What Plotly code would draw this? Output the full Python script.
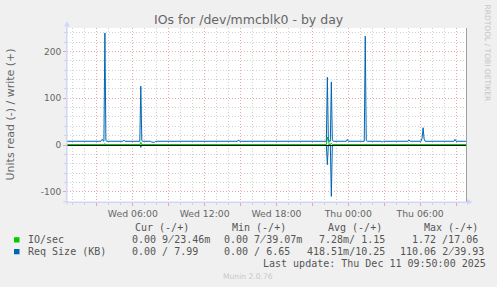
import plotly.graph_objects as go

# ---------------- data ----------------
W1 = "2025-12-10 "
W2 = "2025-12-11 "

# Req Size (KB), write side (+)
req_write_time = [
    W1 + "00:30", W1 + "03:20", W1 + "03:25", W1 + "03:30", W1 + "03:35", W1 + "03:40",
    W1 + "03:45", W1 + "03:50", W1 + "05:10", W1 + "05:15", W1 + "05:20", W1 + "06:35",
    W1 + "06:40", W1 + "06:45", W1 + "06:50", W1 + "07:30", W1 + "07:35", W1 + "07:50",
    W1 + "07:55", W1 + "14:45", W1 + "14:50", W1 + "14:55", W1 + "22:10", W1 + "22:15",
    W1 + "22:20", W1 + "22:25", W1 + "22:30", W1 + "22:35", W1 + "22:40", W1 + "22:45",
    W1 + "23:50", W1 + "23:55", W2 + "00:00", W2 + "01:20", W2 + "01:25", W2 + "01:30",
    W2 + "01:35", W2 + "02:45", W2 + "02:50", W2 + "02:55", W2 + "05:00", W2 + "05:05",
    W2 + "05:10", W2 + "06:05", W2 + "06:10", W2 + "06:15", W2 + "06:20", W2 + "06:25",
    W2 + "08:50", W2 + "08:55", W2 + "09:00", W2 + "09:50",
]
req_write_kb = [
    8.0, 8.0, 12.0, 8.5, 8.0, 239.93,
    9.5, 8.0, 8.0, 10.5, 8.0, 8.0,
    126.0, 9.5, 8.0, 8.0, 6.0, 6.0,
    8.0, 8.0, 11.0, 8.0, 8.0, 145.0,
    13.0, 8.0, 8.0, 135.0, 11.0, 8.0,
    8.0, 12.0, 8.0, 8.0, 233.0, 9.5,
    8.0, 8.0, 6.5, 8.0, 8.0, 11.0,
    8.0, 8.0, 15.0, 37.0, 13.0, 8.0,
    8.0, 12.0, 8.0, 7.99,
]

# Req Size (KB), read side (-)
req_read_time = [
    W1 + "00:30", W1 + "06:35", W1 + "06:40", W1 + "06:45", W1 + "22:10", W1 + "22:15",
    W1 + "22:20", W1 + "22:30", W1 + "22:35", W1 + "22:40", W2 + "09:50",
]
req_read_kb = [0.0, 0.0, 5.0, 0.0, 0.0, 42.0, 0.0, 0.0, 110.06, 0.0, 0.0]

# IO/sec, write side (+)
io_write_time = [
    W1 + "00:30", W1 + "03:35", W1 + "03:40", W1 + "03:45", W1 + "06:35", W1 + "06:40",
    W1 + "06:45", W1 + "22:10", W1 + "22:15", W1 + "22:20", W1 + "22:25", W1 + "22:30",
    W1 + "22:35", W1 + "22:40", W2 + "01:20", W2 + "01:25", W2 + "01:30", W2 + "09:50",
]
io_write_ops = [
    0.92, 0.92, 3.0, 0.92, 0.92, 6.0,
    0.92, 0.92, 17.06, 8.0, 0.92, 0.92,
    4.0, 0.92, 0.92, 2.5, 0.92, 0.92,
]

# IO/sec, read side (-)
io_read_time = [
    W1 + "00:30", W1 + "22:10", W1 + "22:15", W1 + "22:20", W1 + "22:30", W1 + "22:35",
    W1 + "22:40", W2 + "09:50",
]
io_read_ops = [0.0, 0.0, 1.72, 0.0, 0.0, 1.2, 0.0, 0.0]

x_range = [W1 + "00:30", W2 + "09:50"]
y_range = [-122, 250.5]
x_tick_vals = [W1 + "03:00", W1 + "06:00", W1 + "09:00", W1 + "12:00", W1 + "15:00",
               W1 + "18:00", W1 + "21:00", W2 + "00:00", W2 + "03:00", W2 + "06:00",
               W2 + "09:00"]
x_tick_text = ["", "Wed 06:00", "", "Wed 12:00", "", "Wed 18:00", "", "Thu 00:00", "",
               "Thu 06:00", ""]
y_tick_vals = [-100, 0, 100, 200]
y_tick_text = ["-100", "0", "100", "200"]

title_text = "IOs for /dev/mmcblk0 - by day"
y_title = "Units read (-) / write (+)"
series_names = ["IO/sec", "Req Size (KB)"]
series_colors = ["#00CC00", "#0066B3"]
stat_headers = ["Cur (-/+)", "Min (-/+)", "Avg (-/+)", "Max (-/+)"]
# the "/" separator is printed over the first digit of a 7-character value
io_stats = ["0.00 9\u033823.46m", "0.00 7\u033839.07m", "7.28m/ 1.15", "1.72 /17.06"]
req_stats = ["0.00 / 7.99", "0.00 / 6.65", "418.51m/10.25", "110.06 2\u033839.93"]
last_update = "Last update: Thu Dec 11 09:50:00 2025"
munin_version = "Munin 2.0.76"
rrd_credit = "RRDTOOL / TOBI OETIKER"

# ---------------- layout helpers ----------------
W, H = 497, 287
PL, PR, PT, PB = 67, 466, 28, 202


def fx(x):
    return (x - PL) / (PR - PL)


def fy(y):
    return (PB - y) / (PB - PT)


FONT = "DejaVu Sans"
MONO = "DejaVu Sans Mono"
TXT = "#666666"
AXIS = "#CFD6F8"
MGRID = "#e8a8a8"
GRID = "#d2d2d2"

fig = go.Figure()

# read (negative) series in the lower subplot
fig.add_trace(go.Scatter(x=io_read_time, y=[-v for v in io_read_ops], mode="lines",
                         line=dict(color=series_colors[0], width=1), xaxis="x", yaxis="y"))
fig.add_trace(go.Scatter(x=req_read_time, y=[-v for v in req_read_kb], mode="lines",
                         line=dict(color=series_colors[1], width=1), xaxis="x", yaxis="y"))
# write (positive) series in the upper subplot (above the black zero line)
fig.add_trace(go.Scatter(x=io_write_time, y=io_write_ops, mode="lines",
                         line=dict(color=series_colors[0], width=1), xaxis="x2", yaxis="y2"))
fig.add_trace(go.Scatter(x=req_write_time, y=req_write_kb, mode="lines",
                         line=dict(color=series_colors[1], width=1), xaxis="x2", yaxis="y2"))

ann = []


def text(xpx, ypx, s, size=10, color="#555555", family=MONO, xanchor="left", angle=0):
    ann.append(dict(x=fx(xpx), y=fy(ypx), xref="paper", yref="paper", text=s,
                    showarrow=False, xanchor=xanchor, yanchor="middle", borderpad=0,
                    textangle=angle, font=dict(family=family, size=size, color=color)))


text(248.5, 19, title_text, size=12.5, color=TXT, family=FONT, xanchor="center")
text(10, 114.5, y_title, size=11, color=TXT, family=FONT, xanchor="center", angle=-90)
text(487.5, 53, rrd_credit, size=7.5, color="#c4c4c4", family=FONT, xanchor="center", angle=90)
text(248, 276, munin_version, size=7.6, color="#c8c8c8", family=FONT, xanchor="center")

hdr_x = [134, 230.7, 326.7, 422.7]
for hx, h in zip(hdr_x, stat_headers):
    text(hx, 227.7, h)

row_y = [239.5, 251.3]
text(27, row_y[0], series_names[0])
text(27, row_y[1], series_names[1])

io_x = [131, 223, 318, 411]
req_x = [131, 223, 305.5, 399]
for cx, s in zip(io_x, io_stats):
    text(cx, row_y[0], s)
for cx, s in zip(req_x, req_stats):
    text(cx, row_y[1], s)

text(261.5, 263.5, last_update)

shapes = [
    # canvas
    dict(type="rect", xref="paper", yref="paper", x0=0, x1=1, y0=0, y1=1,
         fillcolor="white", line=dict(width=0), layer="below"),
    # right frame
    dict(type="line", xref="paper", yref="paper", x0=fx(466.5), x1=fx(466.5), y0=0, y1=1,
         line=dict(color="#a0a0a0", width=1), layer="above"),
    # axis extensions
    dict(type="line", xref="paper", yref="paper", x0=0, x1=0, y0=fy(205), y1=fy(24),
         line=dict(color=AXIS, width=1), layer="above"),
    dict(type="line", xref="paper", yref="paper", x0=fx(63), x1=fx(468), y0=0, y1=0,
         line=dict(color=AXIS, width=1), layer="above"),
    # arrows
    dict(type="path", xref="paper", yref="paper",
         path=f"M {fx(64)},{fy(26.5)} L {fx(70)},{fy(26.5)} L {fx(67)},{fy(21.5)} Z",
         fillcolor=AXIS, line=dict(width=0), layer="above"),
    dict(type="path", xref="paper", yref="paper",
         path=f"M {fx(467)},{fy(199)} L {fx(467)},{fy(205)} L {fx(472.5)},{fy(202)} Z",
         fillcolor=AXIS, line=dict(width=0), layer="above"),
    # legend swatches
    dict(type="rect", xref="paper", yref="paper", x0=fx(14), x1=fx(19.5), y0=fy(242.5), y1=fy(237.2),
         fillcolor=series_colors[0], line=dict(width=0)),
    dict(type="rect", xref="paper", yref="paper", x0=fx(14), x1=fx(19.5), y0=fy(254.3), y1=fy(249),
         fillcolor=series_colors[1], line=dict(width=0)),
]

fig.update_layout(
    width=W, height=H,
    margin=dict(l=PL, r=W - PR, t=PT, b=H - PB, autoexpand=False),
    paper_bgcolor="#F0F0F0", plot_bgcolor="rgba(0,0,0,0)",
    showlegend=False,
    annotations=ann, shapes=shapes,
    xaxis=dict(
        type="date", range=x_range, tickmode="array", tickvals=x_tick_vals, ticktext=x_tick_text,
        showgrid=True, gridcolor=MGRID, griddash="1px,2px", gridwidth=1,
        zeroline=False, showline=True, linecolor=AXIS, linewidth=1,
        ticks="outside", ticklen=3, tickcolor=MGRID, tickwidth=1,
        tickfont=dict(family=FONT, size=9.3, color=TXT),
        minor=dict(dtick=3600000, tick0=W1 + "00:00", showgrid=True, gridcolor=GRID,
                   griddash="1px,2px", ticks="outside", ticklen=2, tickcolor=GRID),
        fixedrange=True,
    ),
    yaxis=dict(
        range=y_range, tickmode="array", tickvals=y_tick_vals, ticktext=y_tick_text,
        showgrid=True, gridcolor=MGRID, griddash="1px,2px", gridwidth=1,
        zeroline=False, showline=True, linecolor=AXIS, linewidth=1,
        ticks="outside", ticklen=3, tickcolor=MGRID,
        tickfont=dict(family=FONT, size=9, color=TXT),
        minor=dict(dtick=20, tick0=0, showgrid=True, gridcolor=GRID, griddash="1px,2px",
                   ticks="outside", ticklen=2, tickcolor=GRID),
        fixedrange=True,
    ),
    xaxis2=dict(type="date", matches="x", anchor="y2", showgrid=False, zeroline=False,
                showline=False, showticklabels=False, ticks=""),
    yaxis2=dict(range=y_range, anchor="x2", showgrid=False, zeroline=True,
                zerolinecolor="black", zerolinewidth=1, showline=False,
                showticklabels=False, ticks=""),
)

fig.write_html("out.html")
